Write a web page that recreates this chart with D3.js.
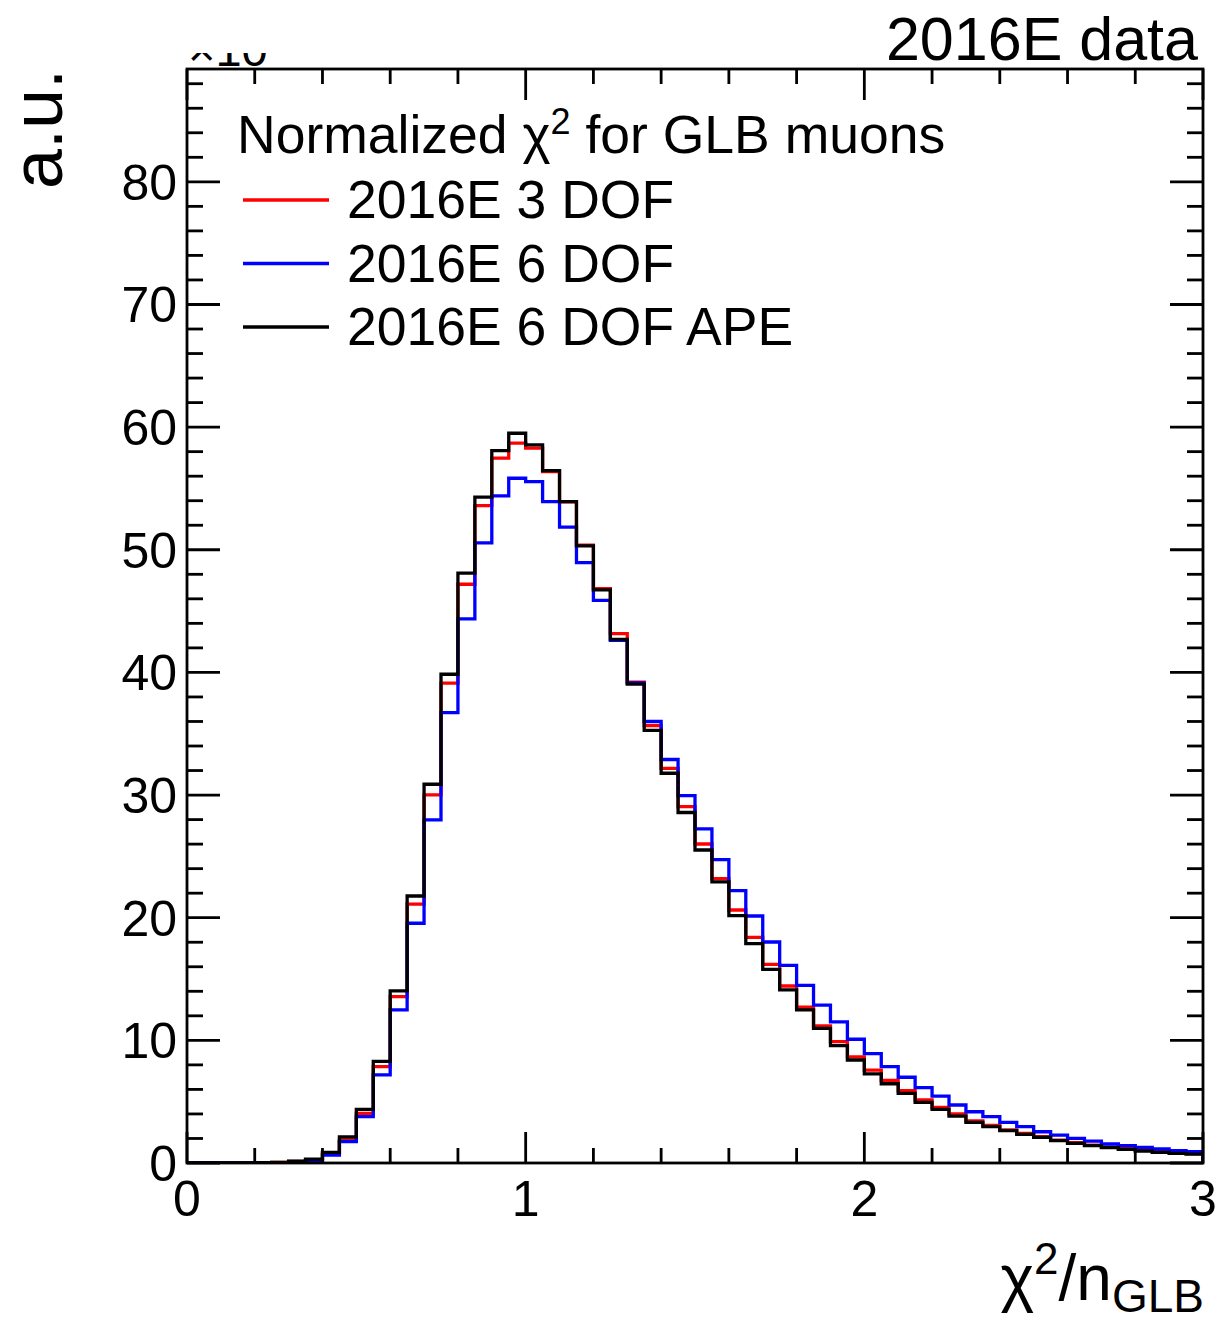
<!DOCTYPE html>
<html>
<head>
<meta charset="utf-8">
<script src="https://cdn.jsdelivr.net/npm/d3@7"></script>
<style>
  html, body { margin: 0; padding: 0; background: #fff; }
  svg { display: block; }
  text { font-family: "Liberation Sans", Arial, Helvetica, sans-serif; fill: #000; }
</style>
</head>
<body>
<svg id="chart" width="1221" height="1317"></svg>
<script>
// Normalized chi2 of global muons, 60 bins of width 0.05 on [0, 3], in units of 10^3
const binEdges = d3.range(0, 61).map(i => i * 0.05);

const dof3 = [
  0, 0, 0, 0.01, 0.02, 0.04, 0.13, 0.28, 0.80, 1.87,
  4.05, 7.86, 13.56, 21.10, 30.02, 39.12, 47.19, 53.60, 57.47, 58.69,
  58.28, 56.38, 53.90, 50.37, 46.82, 43.17, 39.20, 35.66, 32.17, 29.06,
  26.01, 23.18, 20.63, 18.40, 16.20, 14.43, 12.70, 11.17, 9.89, 8.65,
  7.58, 6.73, 5.90, 5.14, 4.54, 4.00, 3.43, 3.07, 2.69, 2.42,
  2.15, 1.87, 1.65, 1.46, 1.30, 1.16, 1.03, 0.92, 0.84, 0.77
];

const dof6 = [
  0, 0, 0, 0, 0.01, 0.03, 0.10, 0.22, 0.65, 1.74,
  3.78, 7.18, 12.48, 19.55, 27.97, 36.72, 44.36, 50.56, 54.39, 55.83,
  55.56, 53.93, 51.84, 48.96, 45.88, 42.62, 39.15, 36.00, 32.90, 29.95,
  27.24, 24.73, 22.21, 20.14, 18.02, 16.12, 14.49, 12.88, 11.50, 10.09,
  8.92, 7.86, 6.99, 6.14, 5.46, 4.73, 4.18, 3.78, 3.32, 2.96,
  2.55, 2.28, 2.01, 1.79, 1.55, 1.41, 1.28, 1.14, 1.00, 0.92
];

const dof6ape = [
  0, 0, 0, 0.01, 0.02, 0.05, 0.16, 0.32, 0.87, 2.12,
  4.38, 8.29, 14.03, 21.77, 30.88, 39.85, 48.09, 54.29, 58.09, 59.50,
  58.55, 56.46, 53.93, 50.32, 46.73, 42.70, 39.04, 35.28, 31.78, 28.58,
  25.52, 22.92, 20.17, 17.88, 15.79, 14.11, 12.48, 10.98, 9.57, 8.40,
  7.27, 6.46, 5.68, 4.95, 4.38, 3.83, 3.32, 2.96, 2.64, 2.34,
  2.09, 1.82, 1.60, 1.41, 1.25, 1.11, 0.98, 0.87, 0.79, 0.73
];

const seriesNames = ["2016E 3 DOF", "2016E 6 DOF", "2016E 6 DOF APE"];
const seriesColors = ["#ff0000", "#0000ff", "#000000"];
const seriesValues = [dof3, dof6, dof6ape];

const xMajorTicks = [0, 1, 2, 3];
const xMinorTicks = d3.range(0, 3.0001, 0.2);
const yMajorTicks = [0, 10, 20, 30, 40, 50, 60, 70, 80];
const yMinorTicks = d3.range(0, 89, 2);

const legendHeader = "Normalized \u03C7";
const titleText = "2016E data";

// Frame geometry
const frame = { left: 187, right: 1203, top: 69, bottom: 1163 };
const x = d3.scaleLinear().domain([0, 3]).range([frame.left, frame.right]);
const y = d3.scaleLinear().domain([0, 89.2]).range([frame.bottom, frame.top]);

const svg = d3.select("#chart");

// Histogram outlines (step lines), clipped to frame
svg.append("clipPath").attr("id", "frameClip")
  .append("rect")
  .attr("x", frame.left).attr("y", frame.top)
  .attr("width", frame.right - frame.left).attr("height", frame.bottom - frame.top);

function stepPoints(vals) {
  const pts = [[binEdges[0], 0]];
  vals.forEach((v, i) => {
    pts.push([binEdges[i], v]);
    pts.push([binEdges[i + 1], v]);
  });
  pts.push([binEdges[vals.length], 0]);
  return pts;
}

const line = d3.line().x(d => x(d[0])).y(d => y(d[1]));
const hists = svg.append("g").attr("clip-path", "url(#frameClip)");
seriesValues.forEach((vals, k) => {
  hists.append("path")
    .attr("d", line(stepPoints(vals)))
    .attr("fill", "none")
    .attr("stroke", seriesColors[k])
    .attr("stroke-width", 3.3)
    .attr("stroke-linejoin", "miter");
});

// Frame and ticks
const axes = svg.append("g").attr("stroke", "#000").attr("stroke-width", 2.8);
axes.append("rect")
  .attr("x", frame.left).attr("y", frame.top)
  .attr("width", frame.right - frame.left).attr("height", frame.bottom - frame.top)
  .attr("fill", "none");

const xMajLen = 31, xMinLen = 15, yMajLen = 33, yMinLen = 16;
xMinorTicks.forEach(t => {
  const isMajor = xMajorTicks.some(m => Math.abs(m - t) < 1e-6);
  const len = isMajor ? xMajLen : xMinLen;
  axes.append("line").attr("x1", x(t)).attr("x2", x(t))
    .attr("y1", frame.bottom).attr("y2", frame.bottom - len);
  axes.append("line").attr("x1", x(t)).attr("x2", x(t))
    .attr("y1", frame.top).attr("y2", frame.top + len);
});
yMinorTicks.forEach(t => {
  const isMajor = yMajorTicks.includes(t);
  const len = isMajor ? yMajLen : yMinLen;
  axes.append("line").attr("y1", y(t)).attr("y2", y(t))
    .attr("x1", frame.left).attr("x2", frame.left + len);
  axes.append("line").attr("y1", y(t)).attr("y2", y(t))
    .attr("x1", frame.right).attr("x2", frame.right - len);
});

// Tick labels
const labelSize = 50;
svg.append("g").selectAll("text").data(xMajorTicks).join("text")
  .attr("x", d => x(d)).attr("y", 1216)
  .attr("text-anchor", "middle")
  .attr("font-size", labelSize)
  .text(d => d);
svg.append("g").selectAll("text").data(yMajorTicks).join("text")
  .attr("x", 177).attr("y", d => y(d) + 18)
  .attr("text-anchor", "end")
  .attr("font-size", labelSize)
  .text(d => d);

// Multiplier above the y axis; its upper part sits under the title box
svg.append("clipPath").attr("id", "expClip")
  .append("rect").attr("x", 0).attr("y", 53).attr("width", 400).attr("height", 15);
svg.append("text")
  .attr("clip-path", "url(#expClip)")
  .attr("x", 188).attr("y", 66)
  .attr("font-size", 47)
  .html("\u00D710<tspan dy='-18' font-size='33'>3</tspan>");

// Axis titles
svg.append("text")
  .attr("transform", "translate(62,69) rotate(-90)")
  .attr("text-anchor", "end")
  .attr("font-size", 72)
  .text("a.u.");

const xt = svg.append("text")
  .attr("x", 1204).attr("y", 1300)
  .attr("text-anchor", "end")
  .attr("font-size", 64);
xt.append("tspan").text("\u03C7");
xt.append("tspan").attr("dy", -26).attr("font-size", 44).text("2");
xt.append("tspan").attr("dy", 26).text("/n");
xt.append("tspan").attr("dy", 12).attr("font-size", 46).text("GLB");

// Title at top right
svg.append("text")
  .attr("x", 1198).attr("y", 60)
  .attr("text-anchor", "end")
  .attr("font-size", 61)
  .text(titleText);

// Legend
const legendSize = 53.5;
const hdr = svg.append("text").attr("x", 237).attr("y", 153).attr("font-size", legendSize);
hdr.append("tspan").text(legendHeader);
hdr.append("tspan").attr("dy", -19).attr("font-size", 36).text("2");
hdr.append("tspan").attr("dy", 19).text(" for GLB muons");

const legendRows = svg.append("g").selectAll("g").data(seriesNames).join("g")
  .attr("transform", (d, i) => `translate(0, ${200 + i * 63.5})`);
legendRows.append("line")
  .attr("x1", 243).attr("x2", 329).attr("y1", 0).attr("y2", 0)
  .attr("stroke", (d, i) => seriesColors[i]).attr("stroke-width", 3.3);
legendRows.append("text")
  .attr("x", 347).attr("y", 18)
  .attr("font-size", legendSize)
  .text(d => d);
</script>
</body>
</html>
